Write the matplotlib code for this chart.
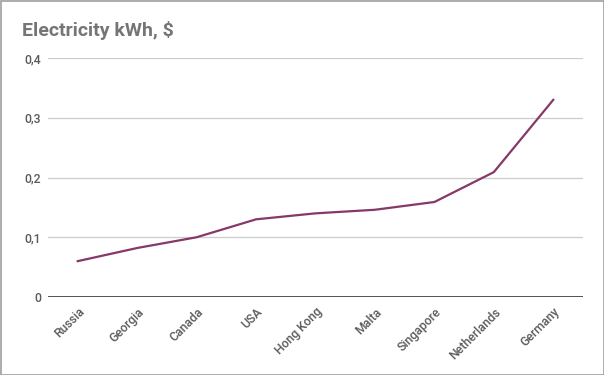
import matplotlib
matplotlib.use("Agg")
import matplotlib.pyplot as plt
from matplotlib.patches import Rectangle

countries = ["Russia", "Georgia", "Canada", "USA", "Hong Kong", "Malta",
             "Singapore", "Netherlands", "Germany"]
prices = [0.060, 0.082, 0.100, 0.130, 0.140, 0.146, 0.159, 0.209, 0.330]
yticks = [0, 0.1, 0.2, 0.3, 0.4]
ytick_labels = ["0", "0,1", "0,2", "0,3", "0,4"]
title = "Electricity kWh, $"

plt.rcParams['font.family'] = ['Roboto', 'DejaVu Sans']

fig = plt.figure(figsize=(6.04, 3.75), dpi=100)
ax = fig.add_axes([48/604, 1-297/375, (583-48)/604, (297-58)/375])

x = list(range(len(countries)))
ax.plot(x, prices, color="#863868", lw=1.6, solid_joinstyle="round", zorder=3)

ax.set_xlim(-0.5, len(countries)-0.5)
ax.set_ylim(0, 0.4)
ax.set_yticks(yticks)
ax.set_yticklabels(ytick_labels)
ax.set_xticks(x)
ax.set_xticklabels(countries, rotation=45, ha="right", va="top",
                   rotation_mode="anchor")
for s in ax.spines.values():
    s.set_visible(False)
ax.tick_params(axis="both", length=0, labelsize=8.8, colors="#5a5a5a")
for lbl in ax.get_xticklabels() + ax.get_yticklabels():
    lbl.set_fontweight("medium")
ax.tick_params(axis="x", pad=6)
ax.tick_params(axis="y", pad=5)
for t in yticks[1:]:
    ax.axhline(t, color="#cccccc", lw=0.9, zorder=1)
ax.axhline(0, color="#333333", lw=1.2, zorder=2)

fig.text(22/604, 1-30/375, title, fontsize=14, fontweight="bold",
         color="#757575", ha="left", va="center")

fig.patches.append(Rectangle((0.5/604, 0.5/375), 1-1/604, 1-1/375,
                             transform=fig.transFigure, fill=False,
                             edgecolor="#9e9e9e", lw=1.2))

fig.savefig("out.png", dpi=100)
